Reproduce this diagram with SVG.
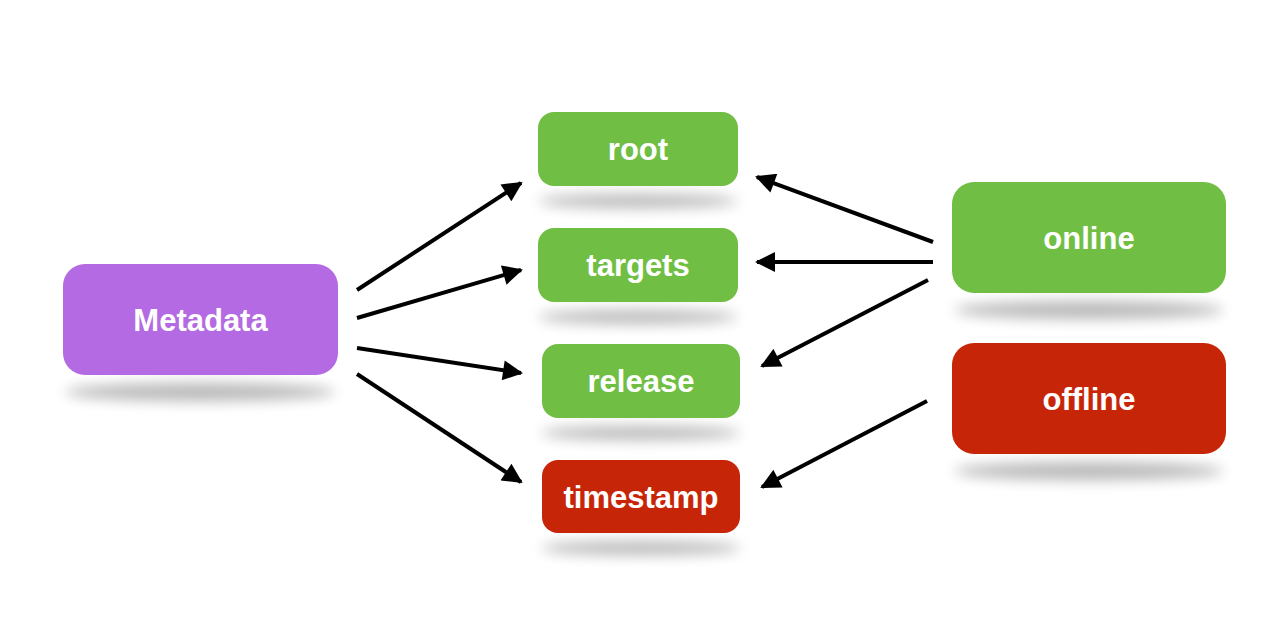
<svg xmlns="http://www.w3.org/2000/svg" width="1270" height="630" viewBox="0 0 1270 630">
<defs>
<filter id="sh" x="-30%" y="-200%" width="160%" height="500%"><feGaussianBlur stdDeviation="7"/></filter>
<marker id="ah" viewBox="0 0 10 10" refX="9" refY="5" markerWidth="5.5" markerHeight="5" markerUnits="strokeWidth" orient="auto"><path d="M0,0 L10,5 L0,10 Z" fill="#000"/></marker>
<style>
.shadow{fill:#000;opacity:0.28;filter:url(#sh)}
.lbl{font-family:"Liberation Sans",Arial,sans-serif;font-weight:bold;font-size:31px;fill:#fff;text-anchor:middle}
.g{fill:#70BF44}.r{fill:#C72508}.p{fill:#B36AE2}
.c{stroke:#000;stroke-width:4;fill:none;marker-end:url(#ah)}
</style>
</defs>
<rect width="1270" height="630" fill="#fff"/>
<g id="shadows">
<ellipse class="shadow" cx="200" cy="392" rx="135" ry="9"/>
<ellipse class="shadow" cx="638" cy="201" rx="100" ry="7"/>
<ellipse class="shadow" cx="638" cy="317" rx="100" ry="7"/>
<ellipse class="shadow" cx="641" cy="433" rx="100" ry="7"/>
<ellipse class="shadow" cx="641" cy="548" rx="100" ry="7"/>
<ellipse class="shadow" cx="1089" cy="310" rx="135" ry="9"/>
<ellipse class="shadow" cx="1089" cy="471" rx="135" ry="9"/>
</g>
<g id="connectors">
<line class="c" x1="357" y1="290" x2="521" y2="183"/>
<line class="c" x1="357" y1="318" x2="521" y2="270"/>
<line class="c" x1="357" y1="348" x2="521" y2="373"/>
<line class="c" x1="357" y1="374" x2="521" y2="482"/>
<line class="c" x1="933" y1="242" x2="757" y2="177"/>
<line class="c" x1="933" y1="262" x2="757" y2="262"/>
<line class="c" x1="928" y1="280" x2="762" y2="366"/>
<line class="c" x1="927" y1="401" x2="762" y2="487"/>
</g>
<g id="metadata"><rect class="p" x="63" y="264" width="275" height="111" rx="22"/><text class="lbl" x="200.5" y="331">Metadata</text></g>
<g id="root"><rect class="g" x="538" y="112" width="200" height="74" rx="16"/><text class="lbl" x="638" y="160">root</text></g>
<g id="targets"><rect class="g" x="538" y="228" width="200" height="74" rx="16"/><text class="lbl" x="638" y="276">targets</text></g>
<g id="release"><rect class="g" x="542" y="344" width="198" height="74" rx="16"/><text class="lbl" x="641" y="392">release</text></g>
<g id="timestamp"><rect class="r" x="542" y="460" width="198" height="73" rx="16"/><text class="lbl" x="641" y="508">timestamp</text></g>
<g id="online"><rect class="g" x="952" y="182" width="274" height="111" rx="22"/><text class="lbl" x="1089" y="249">online</text></g>
<g id="offline"><rect class="r" x="952" y="343" width="274" height="111" rx="22"/><text class="lbl" x="1089" y="410">offline</text></g>
</svg>
